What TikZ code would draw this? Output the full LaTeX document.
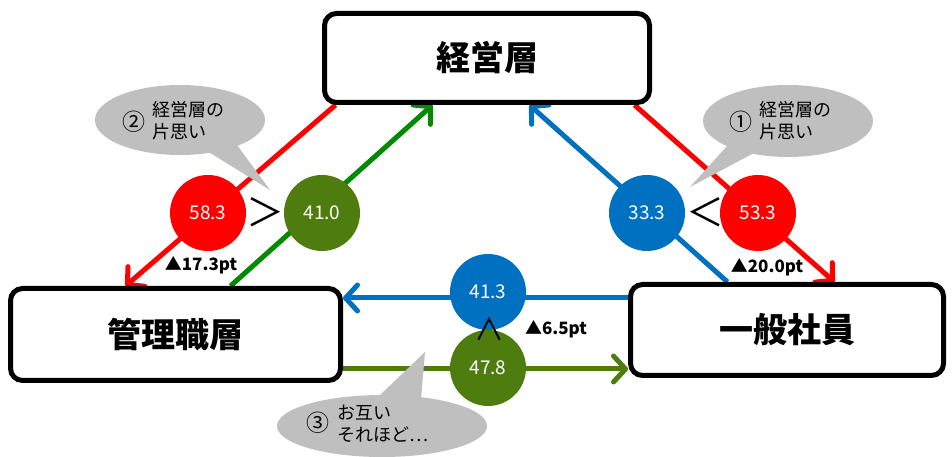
\documentclass[tikz,border=0pt]{standalone}
\usepackage{fontspec}
\setmainfont{Noto Sans CJK JP}
\usetikzlibrary{arrows.meta,shapes.geometric}
\pgfdeclarelayer{background}
\pgfsetlayers{background,main}
\definecolor{cred}{RGB}{255,0,0}
\definecolor{cblue}{RGB}{0,112,192}
\definecolor{cgreen}{RGB}{0,138,0}
\definecolor{colive}{RGB}{78,124,14}
\definecolor{cgray}{RGB}{191,191,191}
\begin{document}
\begin{tikzpicture}[x=1pt,y=1pt,
  box/.style={draw=black, line width=5pt, rounded corners=12pt, fill=white,
    inner sep=0pt, font=\bfseries\fontsize{34}{38}\selectfont},
  circ/.style={circle, minimum size=76pt, inner sep=0pt, text=white,
    font=\fontsize{19}{22}\selectfont},
  conn/.style={line width=5pt,
    -{Straight Barb[length=12pt,width=26pt,line cap=round,line join=round]}},
  cmp/.style={inner sep=0pt, font=\fontsize{38}{40}\selectfont},
  gain/.style={inner sep=0pt, font=\bfseries\fontsize{17}{19}\selectfont},
  bubble/.style={ellipse, fill=cgray, inner sep=0pt},
  btext/.style={anchor=west, align=left, inner sep=0pt, font=\fontsize{18}{22}\selectfont},
  bnum/.style={inner sep=0pt, font=\fontsize{23}{25}\selectfont}
]
\useasboundingbox (0,0) rectangle (952,457);

% boxes
\node[box, minimum width=325pt, minimum height=89pt] (top) at (487,399) {経営層};
\node[box, minimum width=330pt, minimum height=92pt] (mgr) at (175.5,122.5) {管理職層};
\node[box, minimum width=313pt, minimum height=91pt] (emp) at (787,127) {一般社員};

% circles
\node[circ, fill=cred]   (c58)  at (208,244) {58.3};
\node[circ, fill=colive] (c41)  at (322,244) {41.0};
\node[circ, fill=cblue]  (c33)  at (647,244) {33.3};
\node[circ, fill=cred]   (c53)  at (758,244) {53.3};
\node[circ, fill=cblue]  (c413) at (488,165) {41.3};
\node[circ, fill=colive] (c478) at (488,89)  {47.8};

% connectors
\begin{pgfonlayer}{background}
\draw[conn, cred]   ([xshift=13.5pt]top.south west) -- ([xshift=117.5pt]mgr.north west);
\draw[conn, cgreen] ([xshift=222.5pt]mgr.north west) -- ([xshift=110.5pt]top.south west);
\draw[conn, cblue]  ([xshift=99.5pt]emp.north west) -- ([xshift=207.5pt]top.south west);
\draw[conn, cred]   ([xshift=312.5pt]top.south west) -- ([xshift=206.5pt]emp.north west);
\draw[conn, cblue]  ([yshift=32pt]emp.west) -- ([yshift=36.5pt]mgr.east);
\draw[conn, colive] ([yshift=-34.5pt]mgr.east) -- ([yshift=-39pt]emp.west);
\end{pgfonlayer}

% comparison signs
\node[cmp] (gt) at (265,245) {＞};
\node[cmp] (lt) at (705,245) {＜};
\node[inner sep=0pt, font=\fontsize{30}{32}\selectfont] (and) at (489,128) {∧};

% gains
\node[gain] (g1) at (201,192) {▲17.3pt};
\node[gain] (g2) at (767,190) {▲20.0pt};
\node[gain] (g3) at (556,128) {▲6.5pt};

% bubbles
\node[bubble, minimum width=170pt, minimum height=70pt] (b2) at (180,337) {};
\fill[cgray] (207,306) -- (270,267) -- (237,312) -- cycle;
\node[bnum] (n2) at (134,335) {②};
\node[btext] (t2) at (152,336) {経営層の\\片思い};

\node[bubble, minimum width=170pt, minimum height=72pt] (b1) at (788,336) {};
\fill[cgray] (728,312) -- (690,270) -- (754,304) -- cycle;
\node[bnum] (n1) at (741,335) {①};
\node[btext] (t1) at (759,336) {経営層の\\片思い};

\node[bubble, minimum width=210pt, minimum height=62pt] (b3) at (382,31) {};
\fill[cgray] (378,60) -- (425,105) -- (421,57) -- cycle;
\node[bnum] (n3) at (318,34) {③};
\node[btext] (t3) at (337,33) {お互い\\それほど…};
\end{tikzpicture}
\end{document}
